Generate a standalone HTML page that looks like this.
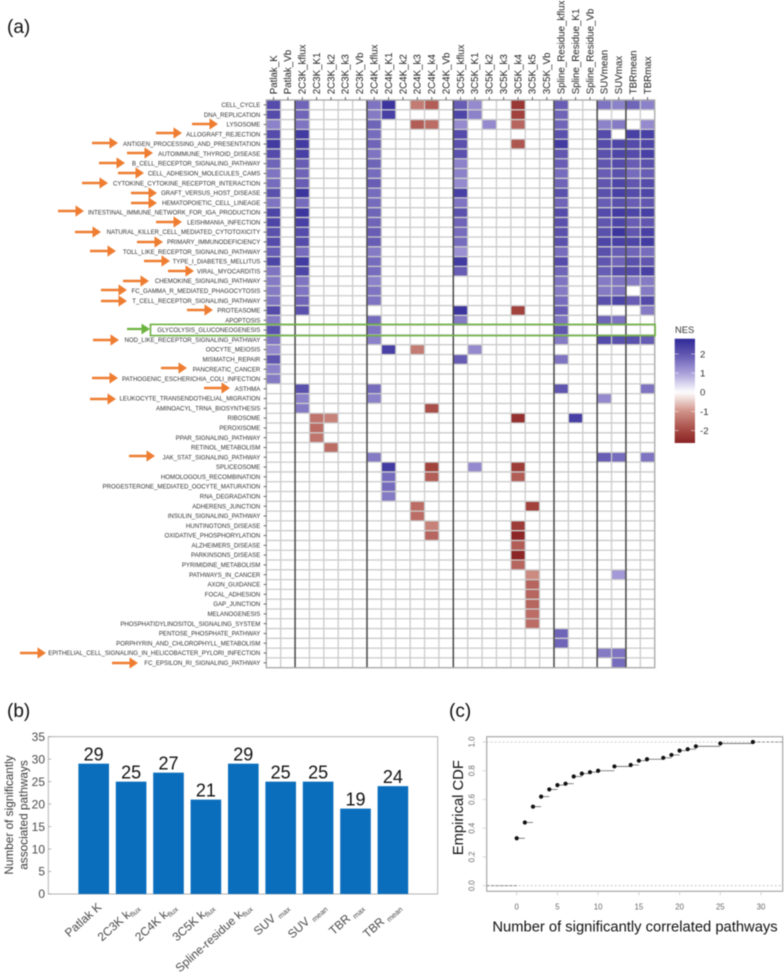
<!DOCTYPE html>
<html lang="en">
<head>
<meta charset="utf-8">
<title>Pathway heatmap, bar chart and ECDF</title>
<style>
html,body{margin:0;padding:0;background:#fff;width:784px;height:974px;overflow:hidden}
svg{display:block;filter:blur(0.4px);font-family:"Liberation Sans",sans-serif}
</style>
</head>
<body>
<svg id="fig" width="784" height="974" viewBox="0 0 784 974" xmlns="http://www.w3.org/2000/svg">
<defs>
<linearGradient id="nes-gradient" x1="0" y1="0" x2="0" y2="1"></linearGradient>
<path id="orange-arrow" d="M-26 -1.2H-8.5V-5.6L0 0L-8.5 5.6V1.2H-26Z" fill="#ee7d31"/>
<path id="green-arrow" d="M-23 -1.1H-8.5V-5.4L0 0L-8.5 5.4V1.1H-23Z" fill="#6cb33f"/>
</defs>
<rect width="784" height="974" fill="#fff"/>
<text x="7" y="33" font-size="19" fill="#111">(a)</text>
<text x="7" y="717" font-size="19" fill="#111">(b)</text>
<text x="449" y="717" font-size="19" fill="#111">(c)</text>
<g id="heatmap"></g>
<g id="legend"></g>
<g id="bars"></g>
<g id="ecdf"></g>
<g>
<use href="#orange-arrow" x="218" y="124"/>
<use href="#orange-arrow" x="182" y="133"/>
<use href="#orange-arrow" x="118" y="143"/>
<use href="#orange-arrow" x="153" y="153"/>
<use href="#orange-arrow" x="125" y="163"/>
<use href="#orange-arrow" x="144" y="173"/>
<use href="#orange-arrow" x="108" y="183"/>
<use href="#orange-arrow" x="157" y="193"/>
<use href="#orange-arrow" x="157" y="203"/>
<use href="#orange-arrow" x="84" y="211"/>
<use href="#orange-arrow" x="182" y="222"/>
<use href="#orange-arrow" x="101" y="232"/>
<use href="#orange-arrow" x="163" y="242"/>
<use href="#orange-arrow" x="116" y="251"/>
<use href="#orange-arrow" x="170" y="261"/>
<use href="#orange-arrow" x="194" y="271"/>
<use href="#orange-arrow" x="149" y="281"/>
<use href="#orange-arrow" x="127" y="290"/>
<use href="#orange-arrow" x="127" y="301"/>
<use href="#orange-arrow" x="213" y="310"/>
<use href="#orange-arrow" x="119" y="340"/>
<use href="#orange-arrow" x="187" y="368"/>
<use href="#orange-arrow" x="118" y="378"/>
<use href="#orange-arrow" x="230" y="388"/>
<use href="#orange-arrow" x="116" y="399"/>
<use href="#orange-arrow" x="155" y="456"/>
<use href="#orange-arrow" x="46" y="653"/>
<use href="#orange-arrow" x="138" y="663"/>
<use href="#green-arrow" x="150" y="329"/>
</g>
<rect x="150.5" y="324.4" width="504.6" height="11.2" fill="none" stroke="#6eb043" stroke-width="1.6"/>
</svg>
<script>
// ---------- Heatmap data ----------
const heatmapColumns = ["Patlak_K","Patlak_Vb","2C3K_kflux","2C3K_K1","2C3K_k2","2C3K_k3","2C3K_Vb","2C4K_kflux","2C4K_K1","2C4K_k2","2C4K_k3","2C4K_k4","2C4K_Vb","3C5K_kflux","3C5K_K1","3C5K_k2","3C5K_k3","3C5K_k4","3C5K_k5","3C5K_Vb","Spline_Residue_kflux","Spline_Residue_K1","Spline_Residue_Vb","SUVmean","SUVmax","TBRmean","TBRmax"];
const heatmapRows = ["CELL_CYCLE","DNA_REPLICATION","LYSOSOME","ALLOGRAFT_REJECTION","ANTIGEN_PROCESSING_AND_PRESENTATION","AUTOIMMUNE_THYROID_DISEASE","B_CELL_RECEPTOR_SIGNALING_PATHWAY","CELL_ADHESION_MOLECULES_CAMS","CYTOKINE_CYTOKINE_RECEPTOR_INTERACTION","GRAFT_VERSUS_HOST_DISEASE","HEMATOPOIETIC_CELL_LINEAGE","INTESTINAL_IMMUNE_NETWORK_FOR_IGA_PRODUCTION","LEISHMANIA_INFECTION","NATURAL_KILLER_CELL_MEDIATED_CYTOTOXICITY","PRIMARY_IMMUNODEFICIENCY","TOLL_LIKE_RECEPTOR_SIGNALING_PATHWAY","TYPE_I_DIABETES_MELLITUS","VIRAL_MYOCARDITIS","CHEMOKINE_SIGNALING_PATHWAY","FC_GAMMA_R_MEDIATED_PHAGOCYTOSIS","T_CELL_RECEPTOR_SIGNALING_PATHWAY","PROTEASOME","APOPTOSIS","GLYCOLYSIS_GLUCONEOGENESIS","NOD_LIKE_RECEPTOR_SIGNALING_PATHWAY","OOCYTE_MEIOSIS","MISMATCH_REPAIR","PANCREATIC_CANCER","PATHOGENIC_ESCHERICHIA_COLI_INFECTION","ASTHMA","LEUKOCYTE_TRANSENDOTHELIAL_MIGRATION","AMINOACYL_TRNA_BIOSYNTHESIS","RIBOSOME","PEROXISOME","PPAR_SIGNALING_PATHWAY","RETINOL_METABOLISM","JAK_STAT_SIGNALING_PATHWAY","SPLICEOSOME","HOMOLOGOUS_RECOMBINATION","PROGESTERONE_MEDIATED_OOCYTE_MATURATION","RNA_DEGRADATION","ADHERENS_JUNCTION","INSULIN_SIGNALING_PATHWAY","HUNTINGTONS_DISEASE","OXIDATIVE_PHOSPHORYLATION","ALZHEIMERS_DISEASE","PARKINSONS_DISEASE","PYRIMIDINE_METABOLISM","PATHWAYS_IN_CANCER","AXON_GUIDANCE","FOCAL_ADHESION","GAP_JUNCTION","MELANOGENESIS","PHOSPHATIDYLINOSITOL_SIGNALING_SYSTEM","PENTOSE_PHOSPHATE_PATHWAY","PORPHYRIN_AND_CHLOROPHYLL_METABOLISM","EPITHELIAL_CELL_SIGNALING_IN_HELICOBACTER_PYLORI_INFECTION","FC_EPSILON_RI_SIGNALING_PATHWAY"];
const nesValues = [
[2.2,0, 1.8,0,0,0,0, 1.6,2.6,0,-1.3,-1.7,0, 1.9,1.3,0,0,-2.3,0,0, 1.9,0,0, 1.6,1.4, 1.8,1.4],
[2.2,0, 1.8,0,0,0,0, 1.5,2.4,0,0,0,0, 2.3,1.4,0,0,-2.1,0,0, 1.8,0,0, 0,0, 0,0],
[1.4,0, 1.6,0,0,0,0, 1.8,0,0,-1.7,-1.5,0, 1.3,0,1.3,0,-1.6,0,0, 1.8,0,0, 1.4,1.5, 0,1.3],
[2.2,0, 2.5,0,0,0,0, 1.7,0,0,0,0,0, 2.2,0,0,0,0,0,0, 2.1,0,0, 2.2,0, 2.4,2.4],
[2.5,0, 2.5,0,0,0,0, 1.8,0,0,0,0,0, 2.1,0,0,0,-1.8,0,0, 2.5,0,0, 2.2,2.3, 2.2,2.3],
[2.2,0, 2.4,0,0,0,0, 1.6,0,0,0,0,0, 2.1,0,0,0,0,0,0, 2.0,0,0, 2.1,2.3, 2.2,2.4],
[1.8,0, 1.9,0,0,0,0, 1.8,0,0,0,0,0, 1.4,0,0,0,0,0,0, 1.9,0,0, 2.0,2.2, 1.9,2.1],
[1.6,0, 1.8,0,0,0,0, 1.7,0,0,0,0,0, 1.4,0,0,0,0,0,0, 1.7,0,0, 1.9,2.1, 1.7,1.9],
[1.7,0, 1.9,0,0,0,0, 1.9,0,0,0,0,0, 1.3,0,0,0,0,0,0, 1.8,0,0, 2.0,2.3, 2.0,2.2],
[2.1,0, 2.6,0,0,0,0, 1.7,0,0,0,0,0, 2.4,0,0,0,0,0,0, 2.1,0,0, 2.1,2.4, 2.2,2.3],
[1.6,0, 1.7,0,0,0,0, 1.7,0,0,0,0,0, 1.6,0,0,0,0,0,0, 1.8,0,0, 1.9,2.1, 1.9,2.0],
[2.3,0, 2.6,0,0,0,0, 1.8,0,0,0,0,0, 2.1,0,0,0,0,0,0, 2.2,0,0, 2.2,2.5, 2.3,2.4],
[2.3,0, 2.4,0,0,0,0, 1.8,0,0,0,0,0, 1.8,0,0,0,0,0,0, 2.1,0,0, 2.0,2.3, 1.9,2.0],
[2.1,0, 2.2,0,0,0,0, 1.9,0,0,0,0,0, 1.7,0,0,0,0,0,0, 2.1,0,0, 2.1,2.6, 2.0,2.4],
[2.2,0, 2.2,0,0,0,0, 1.9,0,0,0,0,0, 1.7,0,0,0,0,0,0, 2.1,0,0, 2.3,2.4, 2.3,2.5],
[1.9,0, 1.7,0,0,0,0, 1.5,0,0,0,0,0, 1.2,0,0,0,0,0,0, 1.7,0,0, 2.1,1.9, 1.8,1.7],
[2.3,0, 2.5,0,0,0,0, 1.7,0,0,0,0,0, 2.5,0,0,0,0,0,0, 2.2,0,0, 2.0,1.8, 2.1,2.0],
[1.6,0, 2.3,0,0,0,0, 1.7,0,0,0,0,0, 1.9,0,0,0,0,0,0, 1.8,0,0, 1.9,2.2, 2.2,2.4],
[1.5,0, 1.6,0,0,0,0, 1.4,0,0,0,0,0, 0,0,0,0,0,0,0, 1.6,0,0, 1.5,1.6, 1.5,1.5],
[1.5,0, 1.6,0,0,0,0, 1.6,0,0,0,0,0, 0,0,0,0,0,0,0, 1.5,0,0, 1.5,1.6, 0,1.5],
[1.6,0, 1.8,0,0,0,0, 1.6,0,0,0,0,0, 0,0,0,0,0,0,0, 1.7,0,0, 2.1,2.3, 1.9,2.2],
[2.2,0, 2.1,0,0,0,0, 0,0,0,0,0,0, 2.6,0,0,0,-2.1,0,0, 1.9,0,0, 0,0, 0,1.5],
[1.5,0, 0,0,0,0,0, 1.7,0,0,0,0,0, 1.5,0,0,0,0,0,0, 1.6,0,0, 1.8,1.6, 0,0],
[2.1,0, 0,0,0,0,0, 1.6,0,0,0,0,0, 0,0,0,0,0,0,0, 2.0,0,0, 0,0, 0,0],
[1.6,0, 0,0,0,0,0, 1.4,0,0,0,0,0, 0,0,0,0,0,0,0, 1.5,0,0, 2.2,2.1, 2.1,1.9],
[1.3,0, 0,0,0,0,0, 0,2.4,0,-1.3,0,0, 0,1.3,0,0,0,0,0, 0,0,0, 0,0, 0,0],
[2.0,0, 0,0,0,0,0, 0,0,0,0,0,0, 1.9,0,0,0,0,0,0, 1.6,0,0, 0,0, 0,0],
[1.4,0, 0,0,0,0,0, 0,0,0,0,0,0, 0,0,0,0,0,0,0, 0,0,0, 0,0, 0,0],
[1.5,0, 0,0,0,0,0, 0,0,0,0,0,0, 0,0,0,0,0,0,0, 0,0,0, 0,0, 0,0],
[0,0, 2.1,0,0,0,0, 1.7,0,0,0,0,0, 0,0,0,0,0,0,0, 2.0,0,0, 0,0, 0,1.6],
[0,0, 1.4,0,0,0,0, 1.4,0,0,0,0,0, 0,0,0,0,0,0,0, 0,0,0, 1.3,0, 0,0],
[0,0, 1.5,0,0,0,0, 0,0,0,0,-1.9,0, 0,0,0,0,0,0,0, 0,0,0, 0,0, 0,0],
[0,0, 0,-1.4,-1.2,0,0, 0,0,0,0,0,0, 0,0,0,0,-2.4,0,0, 0,2.4,0, 0,0, 0,0],
[0,0, 0,-1.5,0,0,0, 0,0,0,0,0,0, 0,0,0,0,0,0,0, 0,0,0, 0,0, 0,0],
[0,0, 0,-1.4,0,0,0, 0,0,0,0,0,0, 0,0,0,0,0,0,0, 0,0,0, 0,0, 0,0],
[0,0, 0,0,-1.5,0,0, 0,0,0,0,0,0, 0,0,0,0,0,0,0, 0,0,0, 0,0, 0,0],
[0,0, 0,0,0,0,0, 1.5,0,0,0,0,0, 0,0,0,0,0,0,0, 0,0,0, 1.9,1.7, 0,1.6],
[0,0, 0,0,0,0,0, 0,2.5,0,0,-2.1,0, 0,1.3,0,0,-2.2,0,0, 0,0,0, 0,0, 0,0],
[0,0, 0,0,0,0,0, 0,1.7,0,0,-1.7,0, 0,0,0,0,-1.7,0,0, 0,0,0, 0,0, 0,0],
[0,0, 0,0,0,0,0, 0,1.7,0,0,0,0, 0,0,0,0,0,0,0, 0,0,0, 0,0, 0,0],
[0,0, 0,0,0,0,0, 0,1.5,0,0,0,0, 0,0,0,0,0,0,0, 0,0,0, 0,0, 0,0],
[0,0, 0,0,0,0,0, 0,0,0,-1.5,0,0, 0,0,0,0,0,-2.1,0, 0,0,0, 0,0, 0,0],
[0,0, 0,0,0,0,0, 0,0,0,-1.5,0,0, 0,0,0,0,0,0,0, 0,0,0, 0,0, 0,0],
[0,0, 0,0,0,0,0, 0,0,0,0,-1.2,0, 0,0,0,0,-2.2,0,0, 0,0,0, 0,0, 0,0],
[0,0, 0,0,0,0,0, 0,0,0,0,-1.6,0, 0,0,0,0,-2.6,0,0, 0,0,0, 0,0, 0,0],
[0,0, 0,0,0,0,0, 0,0,0,0,0,0, 0,0,0,0,-1.7,0,0, 0,0,0, 0,0, 0,0],
[0,0, 0,0,0,0,0, 0,0,0,0,0,0, 0,0,0,0,-2.6,0,0, 0,0,0, 0,0, 0,0],
[0,0, 0,0,0,0,0, 0,0,0,0,0,0, 0,0,0,0,-1.6,0,0, 0,0,0, 0,0, 0,0],
[0,0, 0,0,0,0,0, 0,0,0,0,0,0, 0,0,0,0,0,-1.1,0, 0,0,0, 0,1.1, 0,0],
[0,0, 0,0,0,0,0, 0,0,0,0,0,0, 0,0,0,0,0,-1.6,0, 0,0,0, 0,0, 0,0],
[0,0, 0,0,0,0,0, 0,0,0,0,0,0, 0,0,0,0,0,-1.6,0, 0,0,0, 0,0, 0,0],
[0,0, 0,0,0,0,0, 0,0,0,0,0,0, 0,0,0,0,0,-1.6,0, 0,0,0, 0,0, 0,0],
[0,0, 0,0,0,0,0, 0,0,0,0,0,0, 0,0,0,0,0,-1.5,0, 0,0,0, 0,0, 0,0],
[0,0, 0,0,0,0,0, 0,0,0,0,0,0, 0,0,0,0,0,-1.5,0, 0,0,0, 0,0, 0,0],
[0,0, 0,0,0,0,0, 0,0,0,0,0,0, 0,0,0,0,0,0,0, 1.8,0,0, 0,0, 0,0],
[0,0, 0,0,0,0,0, 0,0,0,0,0,0, 0,0,0,0,0,0,0, 1.8,0,0, 0,0, 0,0],
[0,0, 0,0,0,0,0, 0,0,0,0,0,0, 0,0,0,0,0,0,0, 0,0,0, 1.5,1.6, 0,0],
[0,0, 0,0,0,0,0, 0,0,0,0,0,0, 0,0,0,0,0,0,0, 0,0,0, 0,1.7, 0,0]
];
const columnGroupBreaks = [2,7,13,20,23,25];
const legendTicks = [2,1,0,-1,-2];

// ---------- Bar chart data ----------
const barNames = ["Patlak K","2C3K k","2C4K k","3C5K k","Spline-residue k","SUV ","SUV ","TBR ","TBR "];
const barSubscripts = ["","flux","flux","flux","flux","max","mean","max","mean"];
const barValues = [29,25,27,21,29,25,25,19,24];
const barAxisTicks = [0,5,10,15,20,25,30,35];

// ---------- ECDF data ----------
const ecdfCounts = [0,1,2,3,4,5,6,7,8,9,10,12,14,15,16,18,19,20,21,22,25,29];
const ecdfProbabilities = [0.33,0.44,0.55,0.62,0.67,0.70,0.71,0.76,0.78,0.79,0.80,0.83,0.84,0.87,0.88,0.89,0.91,0.94,0.95,0.97,0.99,1.0];
const ecdfXTicks = [0,5,10,15,20,25,30];
const ecdfYTicks = ["0.0","0.2","0.4","0.6","0.8","1.0"];

const NS = 'http://www.w3.org/2000/svg';
function mk(tag, attrs, parent, txt) {
  const node = document.createElementNS(NS, tag);
  for (const k in attrs) node.setAttribute(k, attrs[k]);
  if (txt !== undefined) node.textContent = txt;
  parent.appendChild(node);
  return node;
}

// colour scale for NES
const posAnchors = [[0,255,255,255],[1,170,160,218],[2,96,86,176],[2.8,48,42,152]];
const negAnchors = [[0,255,255,255],[1,208,146,136],[2,165,72,66],[2.7,136,32,34]];
function nesColor(v) {
  const a = v >= 0 ? posAnchors : negAnchors;
  const m = Math.min(Math.abs(v), a[a.length - 1][0]);
  for (let i = 1; i < a.length; i++) {
    if (m <= a[i][0]) {
      const t = (m - a[i-1][0]) / (a[i][0] - a[i-1][0]);
      const ch = j => Math.round(a[i-1][j] + t * (a[i][j] - a[i-1][j]));
      return 'rgb(' + ch(1) + ',' + ch(2) + ',' + ch(3) + ')';
    }
  }
  return '#fff';
}

// ---------- Heatmap ----------
(function () {
  const g = document.getElementById('heatmap');
  const left = 266.3, right = 654.7, top = 100, bottom = 667.7;
  const cw = (right - left) / heatmapColumns.length;
  const rh = (bottom - top) / heatmapRows.length;
  const xAt = c => left + c * cw;
  const yAt = r => top + r * rh;

  nesValues.forEach((row, r) => {
    row.forEach((v, c) => {
      const cell = mk('rect', {x: xAt(c), y: yAt(r), width: cw, height: rh, fill: nesColor(v)}, g);
      
      
    });
  });
  for (let c = 0; c <= heatmapColumns.length; c++) {
    const line = mk('line', {x1: xAt(c), x2: xAt(c), y1: top, y2: bottom, stroke: '#cbcbcb', 'stroke-width': 1.3}, g);
    
    
  }
  for (let r = 0; r <= heatmapRows.length; r++) {
    const line = mk('line', {x1: left, x2: right, y1: yAt(r), y2: yAt(r), stroke: '#cbcbcb', 'stroke-width': 1.3}, g);
    
    
  }
  columnGroupBreaks.forEach(c => {
    const sep = mk('line', {x1: xAt(c), x2: xAt(c), y1: top, y2: bottom, stroke: '#4a4a4a', 'stroke-width': 1.5}, g);
    
    
  });
  const frame = mk('rect', {x: left, y: top, width: right - left, height: bottom - top, fill: 'none', stroke: '#a8a8a8', 'stroke-width': 1.2}, g);
  
  

  heatmapRows.forEach((name, r) => {
    const cy = yAt(r) + rh / 2;
    const tick = mk('line', {x1: 263.6, x2: left, y1: cy, y2: cy, stroke: '#444', 'stroke-width': 0.8}, g);
    
    
    const label = mk('text', {x: 260.3, y: cy + 2.1, 'text-anchor': 'end', 'font-size': 6.1, fill: '#333'}, g, name);
    
    
  });
  heatmapColumns.forEach((name, c) => {
    const cx = xAt(c) + cw / 2;
    const tick = mk('line', {x1: cx, x2: cx, y1: 97, y2: top, stroke: '#444', 'stroke-width': 0.8}, g);
    
    
    const label = mk('text', {transform: 'translate(' + (cx + 3.3) + ',94.3) rotate(-90)', 'font-size': 9.75, fill: '#222'}, g, name);
    
    
  });
})();

// ---------- Legend ----------
(function () {
  const g = document.getElementById('legend');
  const grad = document.getElementById('nes-gradient');
  const yTop = 338.7, yBot = 443, vTop = 2.8, vBot = -2.65;
  const yOf = v => yTop + (vTop - v) / (vTop - vBot) * (yBot - yTop);
  const steps = 40;
  for (let i = 0; i <= steps; i++) {
    const v = vTop + (vBot - vTop) * i / steps;
    mk('stop', {offset: (i / steps * 100) + '%', 'stop-color': nesColor(v)}, grad);
  }
  const title = mk('text', {x: 675, y: 333, 'font-size': 9.4, fill: '#333'}, g, 'NES');
  
  
  const bar = mk('rect', {x: 674.7, y: yTop, width: 20.3, height: yBot - yTop, fill: 'url(#nes-gradient)'}, g);
  
  
  legendTicks.forEach(v => {
    const y = yOf(v);
    const t1 = mk('line', {x1: 674.7, x2: 678.7, y1: y, y2: y, stroke: '#fff', 'stroke-width': 0.7, opacity: 0.7}, g);
    
    
    const t2 = mk('line', {x1: 691, x2: 695, y1: y, y2: y, stroke: '#fff', 'stroke-width': 0.7, opacity: 0.7}, g);
    
    
    const lab = mk('text', {x: 700, y: y + 3.4, 'font-size': 9.6, fill: '#333'}, g, String(v));
    
    
  });
})();

// ---------- Bar chart ----------
(function () {
  const g = document.getElementById('bars');
  const left = 48.3, right = 437.7, top = 736.7, bottom = 894;
  const yOf = v => bottom - v / 35 * (bottom - top);
  const first = 93.7, step = 37.4, bw = 30.6;
  const xOf = i => first + i * step;

  const frame = mk('rect', {x: left, y: top, width: right - left, height: bottom - top, fill: 'none', stroke: '#b4b4b4', 'stroke-width': 1}, g);
  
  

  barAxisTicks.forEach(v => {
    const y = yOf(v);
    const tick = mk('line', {x1: left, x2: left + 3, y1: y, y2: y, stroke: '#999', 'stroke-width': 0.7}, g);
    
    
    const lab = mk('text', {x: 45, y: y + 4.2, 'text-anchor': 'end', 'font-size': 12, fill: '#4a4a4a'}, g, String(v));
    
    
  });
  barValues.forEach((v, i) => {
    const bar = mk('rect', {x: xOf(i) - bw / 2, y: yOf(v), width: bw, height: bottom - yOf(v), fill: '#0a6ebd'}, g);
    
    
    const val = mk('text', {x: xOf(i), y: yOf(v) - 3, 'text-anchor': 'middle', 'font-size': 18, fill: '#111'}, g, String(v));
    
    
    const lab = mk('text', {transform: 'translate(' + (xOf(i) + 8.5) + ',908) rotate(-42)', 'text-anchor': 'end', 'font-size': 11.9, fill: '#4a4a4a'}, g, barNames[i]);
    
    
    if (barSubscripts[i]) {
      const sub = mk('tspan', {'font-size': 7.4, dy: 2.6}, lab, barSubscripts[i]);
      
      
    }
  });
  const t1 = mk('text', {transform: 'translate(13,815) rotate(-90)', 'text-anchor': 'middle', 'font-size': 11.8, fill: '#3c3c3c'}, g, 'Number of significantly');
  
  
  const t2 = mk('text', {transform: 'translate(27.5,815) rotate(-90)', 'text-anchor': 'middle', 'font-size': 11.8, fill: '#3c3c3c'}, g, 'associated pathways');
  
  
})();

// ---------- ECDF ----------
(function () {
  const g = document.getElementById('ecdf');
  const left = 486.7, right = 782.7, top = 736.7, bottom = 891.3;
  const xOf = v => 516.7 + v * 8.144;
  const yOf = v => 885.7 - v * 143.7;

  [0, 1].forEach(v => {
    const d = mk('line', {x1: left, x2: right, y1: yOf(v), y2: yOf(v), stroke: '#bdbdbd', 'stroke-width': 0.8, 'stroke-dasharray': '2 2'}, g);
    
    
  });
  const baseSeg = mk('line', {x1: left, x2: xOf(ecdfCounts[0]), y1: yOf(0), y2: yOf(0), stroke: '#777', 'stroke-width': 0.8, 'stroke-dasharray': '3 1.5'}, g);
  
  
  const last = ecdfCounts.length - 1;
  const topSeg = mk('line', {x1: xOf(ecdfCounts[last]), x2: right, y1: yOf(ecdfProbabilities[last]), y2: yOf(ecdfProbabilities[last]), stroke: '#777', 'stroke-width': 0.8, 'stroke-dasharray': '3 1.5'}, g);
  
  

  ecdfCounts.forEach((c, i) => {
    if (i < last) {
      const seg = mk('line', {x1: xOf(c), x2: xOf(ecdfCounts[i + 1]), y1: yOf(ecdfProbabilities[i]), y2: yOf(ecdfProbabilities[i]), stroke: '#666', 'stroke-width': 0.8}, g);
      
      
    }
    const dot = mk('circle', {cx: xOf(c), cy: yOf(ecdfProbabilities[i]), r: 2.1, fill: '#111'}, g);
    
    
  });
  const frame = mk('rect', {x: left, y: top, width: right - left, height: bottom - top, fill: 'none', stroke: '#a8a8a8', 'stroke-width': 1.2}, g);
  
  

  ecdfXTicks.forEach(v => {
    const tick = mk('line', {x1: xOf(v), x2: xOf(v), y1: bottom, y2: bottom + 4, stroke: '#c4c4c4', 'stroke-width': 0.7}, g);
    
    
    const lab = mk('text', {x: xOf(v), y: 909.5, 'text-anchor': 'middle', 'font-size': 7.8, fill: '#666'}, g, String(v));
    
    
  });
  ecdfYTicks.forEach(v => {
    const y = yOf(parseFloat(v));
    const tick = mk('line', {x1: left - 4, x2: left, y1: y, y2: y, stroke: '#c4c4c4', 'stroke-width': 0.7}, g);
    
    
    const lab = mk('text', {transform: 'translate(474.5,' + y + ') rotate(-90)', 'text-anchor': 'middle', 'font-size': 7.8, fill: '#666'}, g, v);
    
    
  });
  const xt = mk('text', {x: 635, y: 931.5, 'text-anchor': 'middle', 'font-size': 14.75, fill: '#111'}, g, 'Number of significantly correlated pathways');
  
  
  const yt = mk('text', {transform: 'translate(463,807.7) rotate(-90)', 'text-anchor': 'middle', 'font-size': 14.75, fill: '#111'}, g, 'Empirical CDF');
  
  
})();
</script>
</body>
</html>
